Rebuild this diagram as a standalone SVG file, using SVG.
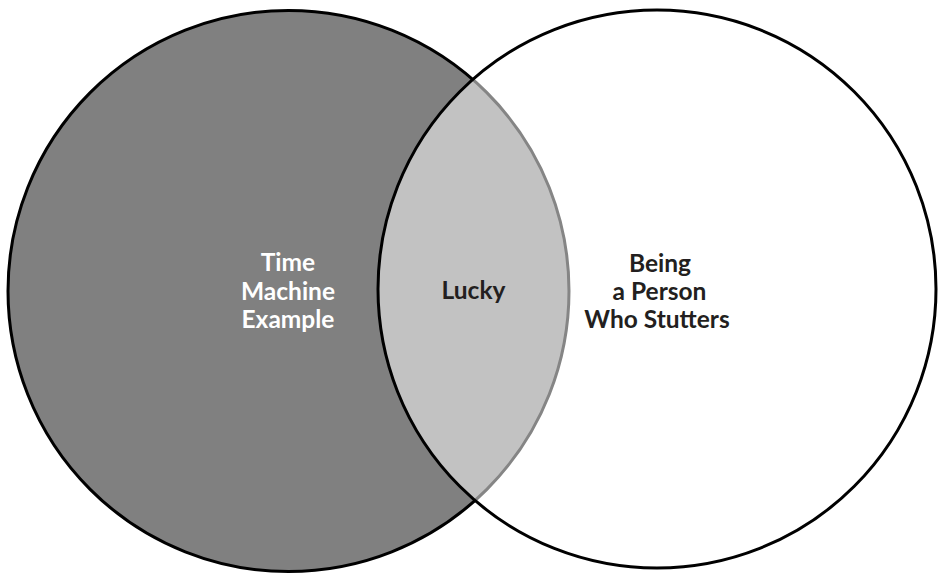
<svg xmlns="http://www.w3.org/2000/svg" width="938" height="575" viewBox="0 0 938 575">
<style>
  .lbl { font-family: Lato, "Liberation Sans", sans-serif; font-weight: bold; font-size: 24.5px; text-anchor: middle; }
  .w { fill: #ffffff; }
  .d { fill: #231f20; }
</style>
<rect width="938" height="575" fill="#ffffff"/>
<g id="set-left">
  <circle cx="288.5" cy="291" r="280.5" fill="#808080" stroke="#000000" stroke-width="3"/>
</g>
<g id="set-right">
  <circle cx="657" cy="289" r="279" fill="#ffffff" fill-opacity="0.52" stroke="#000000" stroke-width="3"/>
</g>
<g id="connectors"></g>
<g id="label-left">
  <text class="lbl w" x="288" y="271">Time</text>
  <text class="lbl w" x="288" y="300">Machine</text>
  <text class="lbl w" x="288" y="328">Example</text>
</g>
<g id="label-center">
  <text class="lbl d" x="473.5" y="299">Lucky</text>
</g>
<g id="label-right">
  <text class="lbl d" x="660" y="272">Being</text>
  <text class="lbl d" x="659.5" y="300">a Person</text>
  <text class="lbl d" x="657" y="328">Who Stutters</text>
</g>
</svg>
